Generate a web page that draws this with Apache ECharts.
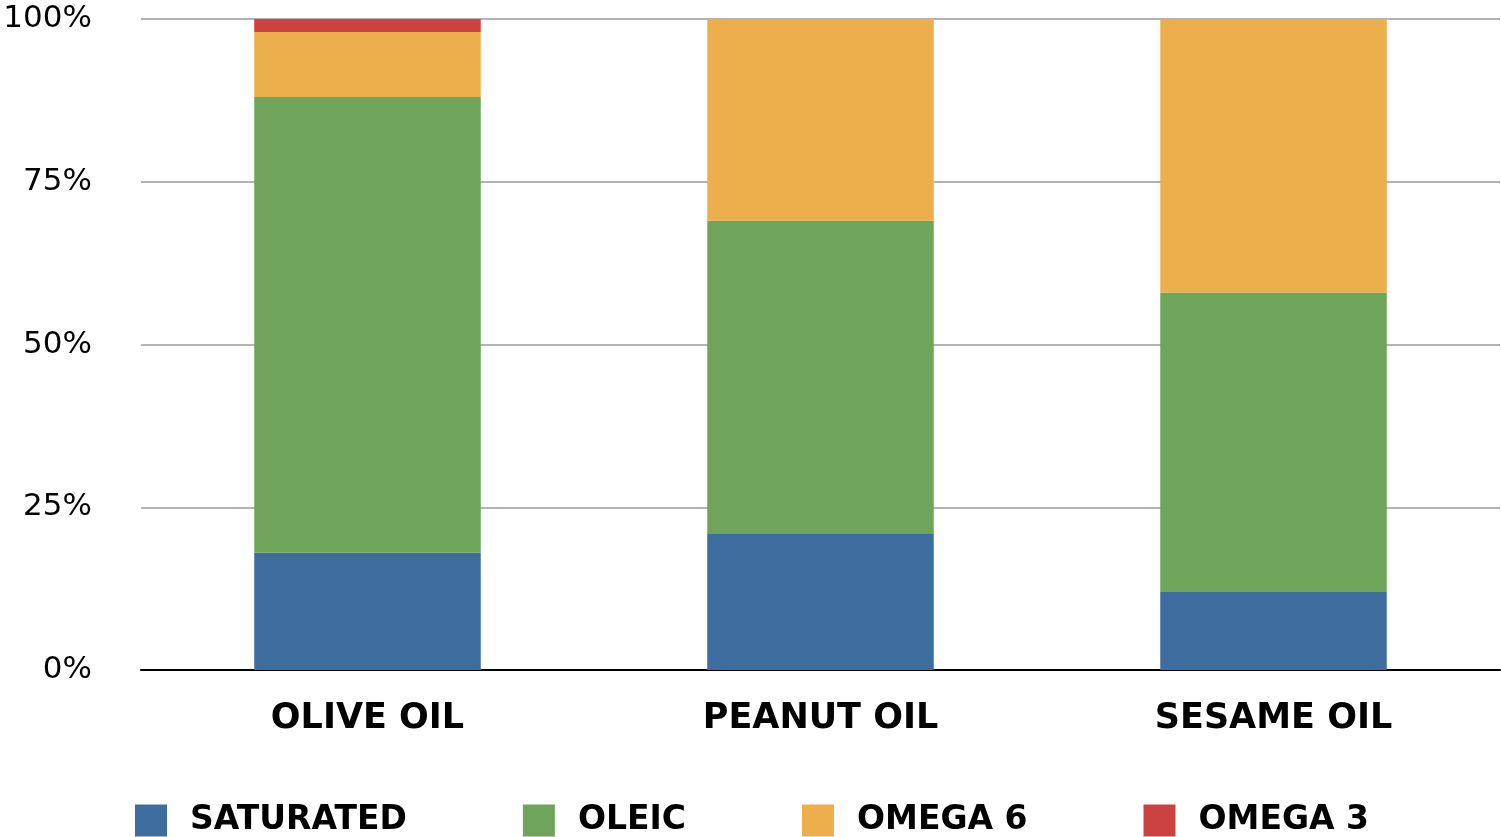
<!DOCTYPE html>
<html>
<head>
<meta charset="utf-8">
<script src="https://cdn.jsdelivr.net/npm/echarts@6/dist/echarts.min.js"></script>
<style>html,body{margin:0;padding:0;background:#fff}#c{width:1501px;height:837px}</style>
</head>
<body>
<div id="c"></div>
<script>
const categories = ['OLIVE OIL', 'PEANUT OIL', 'SESAME OIL'];
const saturated = [18, 21, 12];
const oleic = [70, 48, 46];
const omega6 = [10, 31, 42];
const omega3 = [2, 0, 0];
const seriesNames = ['SATURATED', 'OLEIC', 'OMEGA 6', 'OMEGA 3'];
const yTicks = [0, 25, 50, 75, 100];

const colors = ['#3d6c9e', '#6ea55a', '#edaf4b', '#cc4240'];
const values = [saturated, oleic, omega6, omega3];

const chart = echarts.init(document.getElementById('c'));
chart.setOption({
  animation: false,
  color: colors,
  grid: {left: 141, right: 1, top: 19, bottom: 167, containLabel: false},
  legend: {
    left: 135, top: 804, padding: 0, itemWidth: 32, itemHeight: 32, itemGap: 116,
    icon: 'rect',
    textStyle: {fontFamily: 'DejaVu Sans', fontWeight: 'bold', fontSize: 33, color: '#000', padding: [0, 0, 0, 18]},
    data: seriesNames
  },
  xAxis: {
    type: 'category', data: categories,
    axisLine: {lineStyle: {color: '#000', width: 2}},
    axisTick: {show: false},
    axisLabel: {fontFamily: 'DejaVu Sans', fontWeight: 'bold', fontSize: 35, color: '#000', margin: 31}
  },
  yAxis: {
    type: 'value', min: 0, max: 100, interval: 25,
    axisLine: {show: false}, axisTick: {show: false},
    splitLine: {lineStyle: {color: '#b3b3b3', width: 2}},
    axisLabel: {fontFamily: 'DejaVu Sans', fontSize: 31, color: '#000', margin: 49,
      padding: [6, 0, 0, 0],
      formatter: v => yTicks.includes(v) ? v + '%' : ''}
  },
  series: seriesNames.map((n, i) => ({
    name: n, type: 'bar', stack: 'total', barWidth: '50%',
    data: values[i]
  }))
});
</script>
</body>
</html>
